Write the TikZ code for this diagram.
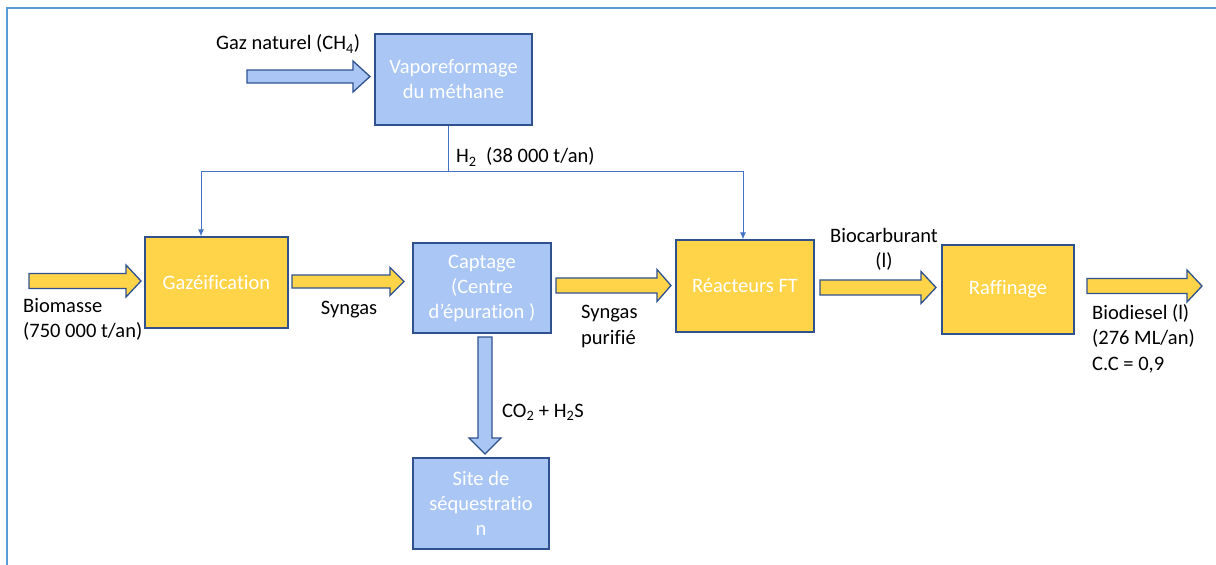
\documentclass[tikz,border=0pt]{standalone}
\usepackage{fontspec}
\setmainfont{Carlito}[Ligatures=NoCommon]
\usetikzlibrary{arrows.meta}
\definecolor{yel}{HTML}{FFD449}
\definecolor{lblue}{HTML}{A9C6F5}
\definecolor{bord}{HTML}{2F528F}
\definecolor{hline}{HTML}{4472C4}
\definecolor{framec}{HTML}{5B9BD5}
% horizontal block arrow: x1, x2, yc, body half, head half, head length, fill
\newcommand\hblock[7]{%
  \draw[blockarrow, fill=#7] (#1,#3-#4) -- (#2-#6,#3-#4) -- (#2-#6,#3-#5) -- (#2,#3)
    -- (#2-#6,#3+#5) -- (#2-#6,#3+#4) -- (#1,#3+#4) -- cycle;}
% vertical block arrow: xc, y1, y2, body half, head half, head length, fill
\newcommand\vblock[7]{%
  \draw[blockarrow, fill=#7] (#1-#4,#2) -- (#1-#4,#3-#6) -- (#1-#5,#3-#6) -- (#1,#3)
    -- (#1+#5,#3-#6) -- (#1+#4,#3-#6) -- (#1+#4,#2) -- cycle;}
\tikzset{
  box/.style={draw=bord, line width=1.4pt, text=white, align=center,
    font=\fontsize{20.5}{25}\selectfont, inner sep=0pt},
  ybox/.style={box, fill=yel},
  bbox/.style={box, fill=lblue},
  blockarrow/.style={draw=bord, line width=1.3pt, line join=miter},
  lbl/.style={font=\fontsize{20.5}{25.5}\selectfont, text=black, inner sep=0pt},
  hflow/.style={draw=hline, line width=0.9pt},
}
\begin{document}
\begin{tikzpicture}[x=1pt,y=-1pt]
\useasboundingbox (0,0) rectangle (1216,565);
\fill[white] (0,0) rectangle (1216,565);
\draw[framec, line width=2pt] (7,565) -- (7,8) -- (1216,8);

% boxes
\node[bbox, minimum width=157pt, minimum height=91pt] (vap) at (453.5,79.5) {Vaporeformage\\du méthane};
\node[ybox, minimum width=143pt, minimum height=91pt] (gaz) at (216.5,282.5) {Gazéification};
\node[bbox, minimum width=138pt, minimum height=90pt] (cap) at (482,288) {Captage\\(Centre\\d’épuration )};
\node[ybox, minimum width=138pt, minimum height=92pt] (reac) at (745,286) {Réacteurs FT};
\node[ybox, minimum width=132pt, minimum height=89pt] (raf) at (1008,289.5) {Raffinage};
\node[bbox, minimum width=136pt, minimum height=91pt] (site) at (481,503.5) {Site de\\séquestratio\\n};

% H2 distribution
\coordinate (h) at (448,171);
\coordinate (hl) at (201,171);
\coordinate (hr) at (743,171);
\draw[hflow] (vap.south -| h) -- (h);
\draw[hflow] (hl) -- (hr);
\draw[hflow, -{Latex[length=7pt,width=6pt]}] (hl) -- (hl |- gaz.north);
\draw[hflow, -{Latex[length=7pt,width=6pt]}] (hr) -- (hr |- reac.north);

% block arrows
\hblock{247}{370}{76.5}{6.5}{15.5}{17}{lblue}
\hblock{29}{141}{281}{7.5}{16}{15}{yel}
\hblock{292}{404}{281.5}{6.5}{14}{14}{yel}
\hblock{556}{671}{285.5}{7.5}{16}{14}{yel}
\hblock{820}{936}{287.5}{7.5}{16}{15}{yel}
\hblock{1087}{1202}{286}{7.5}{16}{15}{yel}
\vblock{485}{337}{454}{7}{16}{16}{lblue}

% labels
\node[lbl, anchor=west] (lgaz) at (216,44) {Gaz naturel (CH\textsubscript{4})};
\node[lbl, anchor=west] (lh2) at (456,157) {H\textsubscript{2}\ \ (38 000 t/an)};
\node[lbl, anchor=west, align=left] (lbio) at (23,319.5) {Biomasse\\(750 000 t/an)};
\node[lbl] (lsyn) at (349,310) {Syngas};
\node[lbl, anchor=west, align=left] (lsp) at (581,326.5) {Syngas\\purifié};
\node[lbl, align=center] (lbc) at (884,249.5) {Biocarburant\\(l)};
\node[lbl, anchor=west, align=left] (lbd) at (1092,338.5) {Biodiesel (l)\\(276 ML/an)\\C.C = 0,9};
\node[lbl, anchor=west] (lco) at (502,412) {CO\textsubscript{2} + H\textsubscript{2}S};
\end{tikzpicture}
\end{document}
